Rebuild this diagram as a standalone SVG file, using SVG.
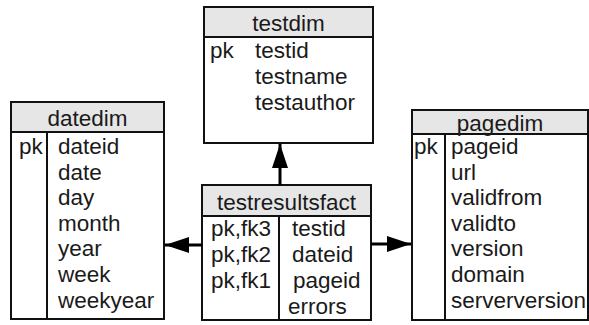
<svg xmlns="http://www.w3.org/2000/svg" width="589" height="325" viewBox="0 0 589 325">
<style>
text{font-family:"Liberation Sans",Arial,sans-serif;font-size:22.5px;fill:#1a1a1a}
.box{fill:#fff;stroke:#111;stroke-width:2}
.hdr{fill:#e6e6e6;stroke:#111;stroke-width:2}
.div{stroke:#111;stroke-width:2}
.c{text-anchor:middle}
.con{stroke:#000;stroke-width:3;fill:none}
</style>
<defs>
<marker id="ah" viewBox="0 0 24 16" refX="24" refY="8" markerWidth="24" markerHeight="16" markerUnits="userSpaceOnUse" orient="auto">
<path d="M0,0 L24,8 L0,16 Z" fill="#000"/>
</marker>
</defs>
<g id="testdim">
<rect class="box" x="204" y="7" width="169" height="136"/>
<rect class="hdr" x="204" y="7" width="169" height="30"/>
<text class="c" x="288.5" y="31">testdim</text>
<text x="210" y="58">pk</text>
<text x="255" y="58">testid</text>
<text x="255" y="84">testname</text>
<text x="255" y="110">testauthor</text>
</g>
<g id="datedim">
<rect class="box" x="11" y="102" width="153" height="217"/>
<rect class="hdr" x="11" y="102" width="153" height="30"/>
<text class="c" x="87.5" y="126">datedim</text>
<line class="div" x1="47" y1="132" x2="47" y2="319"/>
<text x="19" y="154">pk</text>
<text x="58" y="154">dateid</text>
<text x="58" y="179.6">date</text>
<text x="58" y="205.2">day</text>
<text x="58" y="230.8">month</text>
<text x="58" y="256.4">year</text>
<text x="58" y="282">week</text>
<text x="58" y="307.6">weekyear</text>
</g>
<g id="pagedim">
<rect class="box" x="412" y="110" width="176" height="210"/>
<rect class="hdr" x="412" y="110" width="176" height="24"/>
<text class="c" x="500" y="131">pagedim</text>
<line class="div" x1="445" y1="134" x2="445" y2="320"/>
<text x="414" y="154">pk</text>
<text x="451" y="154">pageid</text>
<text x="451" y="179.6">url</text>
<text x="451" y="205.2">validfrom</text>
<text x="451" y="230.8">validto</text>
<text x="451" y="256.4">version</text>
<text x="451" y="282">domain</text>
<text x="451" y="307.6">serverversion</text>
</g>
<g id="testresultsfact">
<rect class="box" x="202" y="185" width="169" height="135"/>
<rect class="hdr" x="202" y="185" width="169" height="31"/>
<text class="c" x="286.5" y="210">testresultsfact</text>
<line class="div" x1="279" y1="216" x2="279" y2="320"/>
<text x="211" y="236">pk,fk3</text>
<text x="211" y="262">pk,fk2</text>
<text x="211" y="288">pk,fk1</text>
<text x="292" y="236">testid</text>
<text x="292" y="262">dateid</text>
<text x="293" y="288">pageid</text>
<text x="288" y="314">errors</text>
</g>
<g id="connectors">
<line class="con" x1="280" y1="185" x2="280" y2="144" marker-end="url(#ah)"/>
<line class="con" x1="202" y1="245" x2="165" y2="245" marker-end="url(#ah)"/>
<line class="con" x1="371" y1="244" x2="411" y2="244" marker-end="url(#ah)"/>
</g>
</svg>
